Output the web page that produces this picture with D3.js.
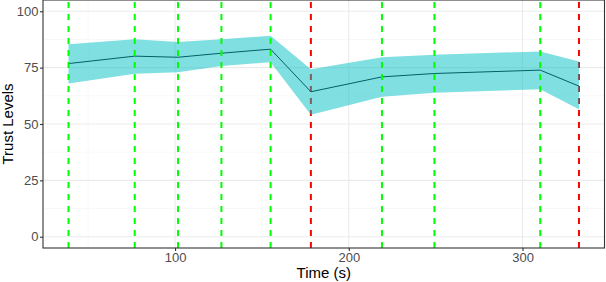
<!DOCTYPE html>
<html>
<head>
<meta charset="utf-8">
<script src="https://cdn.jsdelivr.net/npm/d3@7"></script>
<style>
  body { margin: 0; background: #fff; }
  svg { display: block; font-family: "Liberation Sans", Arial, sans-serif; }
</style>
</head>
<body>
<div id="chart"></div>
<script>
// data
var times = [38.7, 76.8, 101.7, 126.7, 155, 178.2, 219.1, 249.3, 310.2, 332.5];
var eventType = ["good", "good", "good", "good", "good", "bad", "good", "good", "good", "bad"];
var meanTrust = [76.8, 80.1, 79.6, 81.4, 83.2, 64.3, 70.9, 72.4, 73.9, 66.8];
var upperTrust = [85.4, 87.6, 86.4, 87.6, 89.1, 74.3, 79.6, 80.7, 82.2, 77.7];
var lowerTrust = [68.0, 72.3, 73.0, 75.7, 77.4, 54.1, 62.1, 63.9, 65.4, 56.5];
var xTicks = [100, 200, 300];
var xMinor = [50, 150, 250];
var yTicks = [0, 25, 50, 75, 100];
var yMinor = [12.5, 37.5, 62.5, 87.5];

var W = 606, H = 282;
var margin = {top: 0, right: 1.5, bottom: 34, left: 43};
var width = W - margin.left - margin.right,
    height = H - margin.top - margin.bottom;

var data = times.map(function(t, i) {
  return {t: t, type: eventType[i], m: meanTrust[i], lo: lowerTrust[i], hi: upperTrust[i]};
});

// ggplot-style 5% expansion
var ext = d3.extent(times), pad = (ext[1] - ext[0]) * 0.05;
var x = d3.scaleLinear().domain([ext[0] - pad, ext[1] + pad]).range([0, width]);
var y = d3.scaleLinear().domain([-5, 105]).range([height, 0]);

var svg = d3.select("#chart").append("svg")
    .attr("width", W).attr("height", H)
  .append("g")
    .attr("transform", "translate(" + margin.left + "," + margin.top + ")");

// grid
svg.selectAll(".xminor").data(xMinor).enter().append("line")
  .attr("x1", function(d) { return x(d); }).attr("x2", function(d) { return x(d); })
  .attr("y1", 0).attr("y2", height)
  .style("stroke", "#f2f2f2").style("stroke-width", 0.55);
svg.selectAll(".yminor").data(yMinor).enter().append("line")
  .attr("x1", 0).attr("x2", width)
  .attr("y1", function(d) { return y(d); }).attr("y2", function(d) { return y(d); })
  .style("stroke", "#f2f2f2").style("stroke-width", 0.55);
svg.selectAll(".xmajor").data(xTicks).enter().append("line")
  .attr("x1", function(d) { return x(d); }).attr("x2", function(d) { return x(d); })
  .attr("y1", 0).attr("y2", height)
  .style("stroke", "#ebebeb").style("stroke-width", 1.1);
svg.selectAll(".ymajor").data(yTicks).enter().append("line")
  .attr("x1", 0).attr("x2", width)
  .attr("y1", function(d) { return y(d); }).attr("y2", function(d) { return y(d); })
  .style("stroke", "#ebebeb").style("stroke-width", 1.1);

// event lines drawn under the ribbon (red) and over it (green)
function vlines(sel, color) {
  sel.append("line")
    .attr("x1", function(d) { return x(d.t); }).attr("x2", function(d) { return x(d.t); })
    .attr("y1", height).attr("y2", 0)
    .style("stroke", color).style("stroke-width", 2)
    .style("stroke-dasharray", "6,6");
}
vlines(svg.selectAll(".bad").data(data.filter(function(d) { return d.type == "bad"; })).enter(), "#ff0000");

// mean line
svg.append("path").datum(data)
  .attr("d", d3.line().x(function(d) { return x(d.t); }).y(function(d) { return y(d.m); }))
  .style("fill", "none").style("stroke", "#000").style("stroke-width", 1);

// ribbon
svg.append("path").datum(data)
  .attr("d", d3.area().x(function(d) { return x(d.t); })
    .y0(function(d) { return y(d.lo); }).y1(function(d) { return y(d.hi); }))
  .style("fill", "#00BFC4").style("fill-opacity", 0.5);

vlines(svg.selectAll(".good").data(data.filter(function(d) { return d.type == "good"; })).enter(), "#00ff00");

// panel border
svg.append("rect")
  .attr("x", 0).attr("y", 0).attr("width", width).attr("height", height)
  .style("fill", "none").style("stroke", "#333333").style("stroke-width", 1.1);

// axes
var xAxis = svg.append("g")
  .attr("transform", "translate(0," + height + ")")
  .call(d3.axisBottom(x).tickValues(xTicks).tickSize(3).tickPadding(2));
var yAxis = svg.append("g")
  .call(d3.axisLeft(y).tickValues(yTicks).tickSize(3).tickPadding(1.5));
[xAxis, yAxis].forEach(function(a) {
  a.select(".domain").remove();
  a.selectAll(".tick line").style("stroke", "#333333").style("stroke-width", 1.1);
  a.selectAll(".tick text").style("fill", "#4d4d4d").style("font-size", "13px")
    .style("font-family", "Liberation Sans, Arial, sans-serif");
});

// axis titles
svg.append("text")
  .attr("x", width / 2).attr("y", height + 30)
  .attr("text-anchor", "middle")
  .style("font-size", "15px").style("fill", "#000")
  .text("Time (s)");
svg.append("text")
  .attr("transform", "translate(" + (12.5 - margin.left) + "," + y(50) + ") rotate(-90)")
  .attr("text-anchor", "middle")
  .style("font-size", "15px").style("fill", "#000")
  .text("Trust Levels");
</script>
</body>
</html>
